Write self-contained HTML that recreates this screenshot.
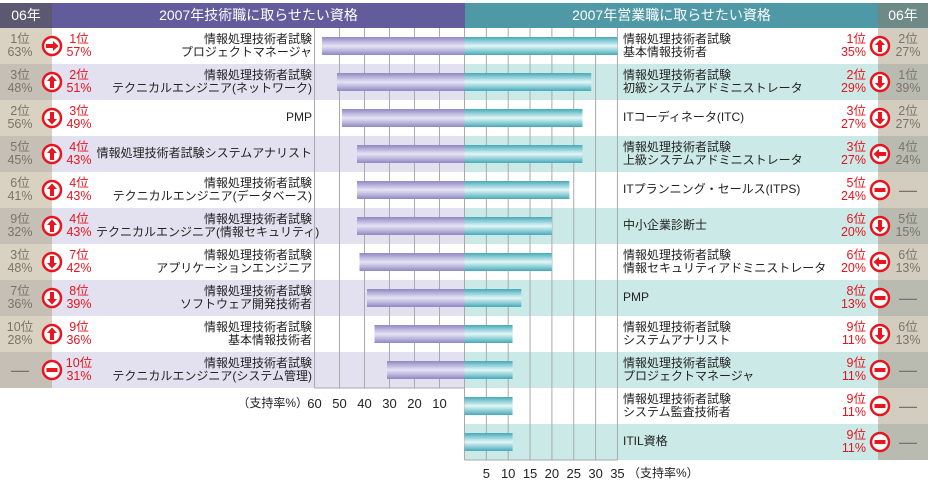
<!DOCTYPE html>
<html><head><meta charset="utf-8"><style>
body{margin:0;width:930px;height:483px;background:#fff;overflow:hidden;font-family:"Liberation Sans","Noto Sans CJK JP",sans-serif;}
#c{position:relative;width:930px;height:483px;}
.a{position:absolute;box-sizing:border-box;white-space:nowrap;}
.t{font-size:12px;line-height:13px;color:#222;}
.r{color:#e8141e;font-size:12.5px;line-height:13px;text-align:center;}
.o{color:#7a7468;font-size:12.5px;line-height:13px;text-align:center;}
</style></head><body>
<div id="c">
<div class="a" style="left:0;top:3px;width:52px;height:25px;background:#5d5871;color:#fff;font-size:14px;line-height:25px;text-align:center">06年</div>
<div class="a" style="left:52px;top:3px;width:413px;height:25px;background:#625b9c;color:#fff;font-size:14px;line-height:25px;text-align:center">2007年技術職に取らせたい資格</div>
<div class="a" style="left:465px;top:3px;width:413px;height:25px;background:#4f98a5;color:#fff;font-size:14px;line-height:25px;text-align:center">2007年営業職に取らせたい資格</div>
<div class="a" style="left:878px;top:3px;width:50px;height:25px;background:#6e8a87;color:#fff;font-size:14px;line-height:25px;text-align:center">06年</div>
<svg class="a" id="s" style="left:0;top:0" width="930" height="483"></svg>
</div>
<script>
const leftNames=[["情報処理技術者試験","プロジェクトマネージャ"],["情報処理技術者試験","テクニカルエンジニア(ネットワーク)"],["PMP"],["情報処理技術者試験システムアナリスト"],["情報処理技術者試験","テクニカルエンジニア(データベース)"],["情報処理技術者試験","テクニカルエンジニア(情報セキュリティ)"],["情報処理技術者試験","アプリケーションエンジニア"],["情報処理技術者試験","ソフトウェア開発技術者"],["情報処理技術者試験","基本情報技術者"],["情報処理技術者試験","テクニカルエンジニア(システム管理)"]];
const leftValues=[57,51,49,43,43,43,42,39,36,31];
const leftRanks=["1位","2位","3位","4位","4位","4位","7位","8位","9位","10位"];
const leftOld=[["1位","63%"],["3位","48%"],["2位","56%"],["5位","45%"],["6位","41%"],["9位","32%"],["3位","48%"],["7位","36%"],["10位","28%"],null];
const leftIcons=["right","up","down","up","up","up","down","down","up","minus"];
const rightNames=[["情報処理技術者試験","基本情報技術者"],["情報処理技術者試験","初級システムアドミニストレータ"],["ITコーディネータ(ITC)"],["情報処理技術者試験","上級システムアドミニストレータ"],["ITプランニング・セールス(ITPS)"],["中小企業診断士"],["情報処理技術者試験","情報セキュリティアドミニストレータ"],["PMP"],["情報処理技術者試験","システムアナリスト"],["情報処理技術者試験","プロジェクトマネージャ"],["情報処理技術者試験","システム監査技術者"],["ITIL資格"]];
const rightValues=[35,29,27,27,24,20,20,13,11,11,11,11];
const rightRanks=["1位","2位","3位","3位","5位","6位","6位","8位","9位","9位","9位","9位"];
const rightOld=[["2位","27%"],["1位","39%"],["2位","27%"],["4位","24%"],null,["5位","15%"],["6位","13%"],null,["6位","13%"],null,null,null];
const rightIcons=["up","down","down","left","minus","down","left","minus","down","minus","minus","minus"];
const leftTicks=[60,50,40,30,20,10];
const rightTicks=[5,10,15,20,25,30,35];

const NS="http://www.w3.org/2000/svg",svg=document.getElementById('s'),C=document.getElementById('c');
const top0=28,RH=36,zero=464.5;
const xL=v=>zero-v*2.5, xR=v=>zero+v*4.37;
function el(t,a,p){const e=document.createElementNS(NS,t);for(const k in a)e.setAttribute(k,a[k]);(p||svg).appendChild(e);return e;}
const defs=el('defs',{});
function grad(id,c1,c2){const g=el('linearGradient',{id:id,x1:0,y1:0,x2:0,y2:1},defs);[[0,c1],[0.5,c2],[1,c1]].forEach(s=>el('stop',{offset:s[0],'stop-color':s[1]},g));}
grad('gp','#9088c4','#e6e3f5');grad('gt','#45aab8','#e2f6f8');
function div(cls,css,html,name){const d=document.createElement('div');d.className='a '+cls;d.style.cssText=css;d.innerHTML=html;C.appendChild(d);return d;}
function icon(cx,cy,type){const g=el('g',{});
 el('circle',{cx:cx,cy:cy,r:9,fill:'#fff',stroke:'#e8141e','stroke-width':2.5},g);
 if(type=='minus'){el('rect',{x:cx-5.5,y:cy-2,width:11,height:4,fill:'#e8141e'},g);return;}
 const rot={up:0,right:90,down:180,left:270}[type];
 el('path',{d:`M${cx} ${cy-6.5} L${cx+5} ${cy-1} L${cx+2} ${cy-1} L${cx+2} ${cy+6} L${cx-2} ${cy+6} L${cx-2} ${cy-1} L${cx-5} ${cy-1}Z`,fill:'#e8141e',transform:`rotate(${rot} ${cx} ${cy})`},g);}
leftValues.forEach((v,i)=>{const y=top0+i*RH,alt=i%2==1;
 const r=el('rect',{x:52,y:y,width:412.5,height:RH,fill:alt?'#e3e1ef':'#fff'});
 const o=el('rect',{x:0,y:y,width:52,height:RH,fill:alt?'#c6bfb6':'#d9d2c2'});});
rightValues.forEach((v,i)=>{const y=top0+i*RH,alt=i%2==1;
 const r=el('rect',{x:464.5,y:y,width:413.5,height:RH,fill:alt?'#cbe9e6':'#fff'});
 const o=el('rect',{x:878,y:y,width:50,height:RH,fill:alt?'#b9bbb1':'#d3cdbf'});});
[60,50,40,30,20,10,0].forEach(t=>{const l=el('line',{x1:xL(t),x2:xL(t),y1:top0,y2:top0+leftValues.length*RH,stroke:'#aaa','stroke-width':1});});
[0].concat(rightTicks).forEach(t=>{const l=el('line',{x1:xR(t),x2:xR(t),y1:top0,y2:top0+rightValues.length*RH,stroke:'#aaa','stroke-width':1});});
const bl=el('line',{x1:xL(60),x2:xL(0),y1:top0+leftValues.length*RH,y2:top0+leftValues.length*RH,stroke:'#aaa'});
const br=el('line',{x1:xR(0),x2:xR(35),y1:top0+rightValues.length*RH,y2:top0+rightValues.length*RH,stroke:'#aaa'});
leftValues.forEach((v,i)=>{const y=top0+i*RH+9;const b=el('rect',{x:xL(v),y:y,width:zero-xL(v),height:18,fill:'url(#gp)'});
 const n=leftNames[i];div('t',`left:96px;width:216px;top:${top0+i*RH+(n.length==2?5:11)}px;text-align:right;font-size:12px`,n.join('<br>'),'left-label');
 div('r',`left:63px;width:32px;top:${top0+i*RH+5}px`,leftRanks[i]+'<br>'+v+'%','left-rank');
 if(leftOld[i])div('o',`left:0;width:52px;top:${top0+i*RH+5}px;padding-right:12px`,leftOld[i].join('<br>'),'left-old-rank');
 else div('o',`left:0;width:52px;top:${top0+i*RH+9}px;font-size:18px;line-height:18px;padding-right:12px`,'—','left-old-rank');
 icon(52,top0+i*RH+18,leftIcons[i]);});
rightValues.forEach((v,i)=>{const y=top0+i*RH+9;const b=el('rect',{x:zero,y:y,width:xR(v)-zero,height:18,fill:'url(#gt)'});
 const n=rightNames[i];div('t',`left:623px;width:210px;top:${top0+i*RH+(n.length==2?5:11)}px;text-align:left;font-size:12px`,n.join('<br>'),'right-label');
 div('r',`left:830px;width:36px;top:${top0+i*RH+5}px;text-align:right`,rightRanks[i]+'<br>'+v+'%','right-rank');
 if(rightOld[i])div('o',`left:888px;width:40px;top:${top0+i*RH+5}px`,rightOld[i].join('<br>'),'right-old-rank');
 else div('o',`left:888px;width:40px;top:${top0+i*RH+9}px;font-size:18px;line-height:18px`,'—','right-old-rank');
 icon(880,top0+i*RH+18,rightIcons[i]);});
leftTicks.forEach(t=>div('t',`left:${xL(t)-12}px;width:24px;top:397px;text-align:center;font-size:13px`,t,'left-tick-label'));
div('t','left:226px;width:82px;top:397px;text-align:right;font-size:12px','（支持率%）','left-axis-title');
rightTicks.forEach(t=>div('t',`left:${xR(t)-12}px;width:24px;top:467px;text-align:center;font-size:13px`,t,'right-tick-label'));
div('t','left:628px;width:80px;top:467px;font-size:12px','（支持率%）','right-axis-title');
</script>
</body></html>
